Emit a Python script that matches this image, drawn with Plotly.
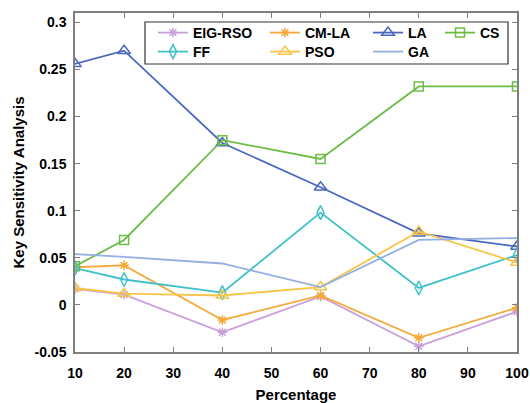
import plotly.graph_objects as go

x_vals = [10, 20, 40, 60, 80, 100]

eig_rso = [0.017, 0.011, -0.029, 0.009, -0.044, -0.007]
cm_la = [0.040, 0.042, -0.016, 0.010, -0.035, -0.003]
la = [0.256, 0.270, 0.172, 0.125, 0.076, 0.062]
cs = [0.041, 0.069, 0.175, 0.155, 0.232, 0.232]
ff = [0.039, 0.027, 0.013, 0.098, 0.018, 0.053]
pso = [0.018, 0.012, 0.010, 0.019, 0.078, 0.045]
ga = [0.054, 0.051, 0.044, 0.019, 0.069, 0.071]

names = ["EIG-RSO", "CM-LA", "LA", "CS", "FF", "PSO", "GA"]
ytick_vals = [-0.05, 0, 0.05, 0.1, 0.15, 0.2, 0.25, 0.3]
ytick_text = ["-0.05", "0", "0.05", "0.1", "0.15", "0.2", "0.25", "0.3"]
xtick_vals = [10, 20, 30, 40, 50, 60, 70, 80, 90, 100]

FW, FH = 530, 403
# plot area in page pixels
L, R, T, B = 75, 517, 13, 352
W, H = R - L, B - T


def px(xp):
    return (xp - L) / W


def py(yp):
    return (B - yp) / H


# (values, name, colour, symbol, size, legend position in page px: legend-left x, row centre y)
series = [
    (eig_rso, names[0], "#c9a0dc", "asterisk-open", 8, (153, 33)),
    (cm_la, names[1], "#f4a93a", "asterisk-open", 8, (265, 33)),
    (la, names[2], "#4a68c0", "triangle-up-open", 11, (368, 33)),
    (cs, names[3], "#6cbd45", "square-open", 9, (440, 33)),
    (ff, names[4], "#3ec1c9", "diamond-tall-open", 10, (153, 52)),
    (pso, names[5], "#f7c548", "triangle-up-open", 11, (265, 52)),
    (ga, names[6], "#93aee3", None, 0, (368, 52)),
]

font_family = "Liberation Sans, Arial, sans-serif"
legends = {}
fig = go.Figure()
for i, (vals, name, color, sym, size, pos) in enumerate(series):
    lg = "legend" if i == 0 else f"legend{i + 1}"
    mode = "lines+markers" if sym else "lines"
    marker = dict(symbol=sym, size=size, color=color, line=dict(color=color, width=1.5)) if sym else None
    fig.add_trace(go.Scatter(
        x=x_vals, y=vals, name=name, mode=mode,
        line=dict(color=color, width=1.8),
        marker=marker, legend=lg, showlegend=True,
    ))
    legends[lg] = dict(
        x=px(pos[0]), y=py(pos[1]), xanchor="left", yanchor="middle",
        bgcolor="rgba(0,0,0,0)", borderwidth=0, visible=True,
        font=dict(family=font_family, size=14, color="black", weight="bold"),
    )

fig.update_layout(
    width=FW, height=FH, showlegend=True,
    margin=dict(l=L, r=FW - R, t=T, b=FH - B),
    paper_bgcolor="white", plot_bgcolor="white",
    font=dict(family=font_family, size=14, color="black", weight="bold"),
    xaxis=dict(
        range=[10, 100], tickvals=xtick_vals, automargin=False,
        showline=True, linecolor="#7f7f7f", linewidth=1.5, mirror="ticks",
        ticks="inside", ticklen=5, tickcolor="#7f7f7f", showgrid=False, zeroline=False,
        ticklabelstandoff=7,
        title=dict(text="Percentage", font=dict(size=15, weight="bold"), standoff=10),
        tickfont=dict(size=14, weight="bold"),
    ),
    yaxis=dict(
        range=[-0.05, 0.31], tickvals=ytick_vals, ticktext=ytick_text, automargin=False,
        showline=True, linecolor="#7f7f7f", linewidth=1.5, mirror="ticks",
        ticks="inside", ticklen=5, tickcolor="#7f7f7f", showgrid=False, zeroline=False,
        ticklabelstandoff=4,
        title=dict(text="Key Sensitivity Analysis", font=dict(size=15, weight="bold"), standoff=6),
        tickfont=dict(size=14, weight="bold"),
    ),
    shapes=[dict(
        type="rect", xref="paper", yref="paper",
        x0=px(145), x1=px(508), y0=py(64), y1=py(22),
        line=dict(color="#333333", width=1.2), fillcolor="white", layer="below",
    )],
    **legends,
)

fig.write_html(
    "out.html",
    config={"displayModeBar": False},
    post_script="document.body.style.margin='0';document.documentElement.style.overflow='hidden';",
)
